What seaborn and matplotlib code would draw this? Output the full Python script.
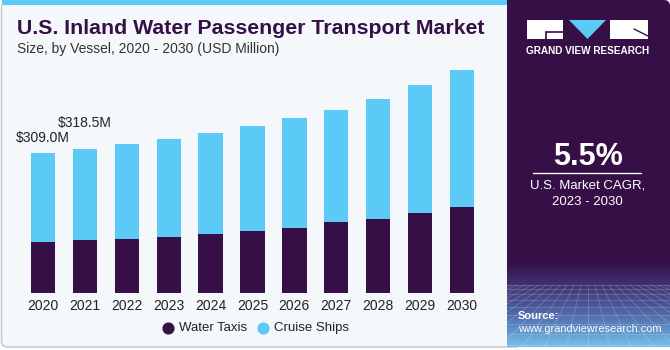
import numpy as np
import pandas as pd
import matplotlib
matplotlib.use("Agg")
import matplotlib.pyplot as plt
import seaborn as sns
from matplotlib.patches import FancyBboxPatch, Rectangle, Polygon
from matplotlib.colors import LinearSegmentedColormap

years = ["2020", "2021", "2022", "2023", "2024", "2025", "2026", "2027", "2028", "2029", "2030"]
water_taxis = [112.6, 116.3, 119.8, 124.3, 129.5, 137.5, 144.1, 155.8, 164.0, 177.2, 190.5]
cruise_ships = [196.4, 202.2, 209.7, 215.7, 222.9, 231.7, 242.1, 248.8, 264.2, 282.6, 302.4]
label_years = ["2020", "2021"]
label_texts = ["$309.0M", "$318.5M"]

DARK = "#370f47"
BLUE = "#5bcaf6"
BG = "#f4f8fb"

sns.set_theme(style="white")
plt.rcParams["font.family"] = ["Liberation Sans", "DejaVu Sans"]

W, H = 670, 350
fig = plt.figure(figsize=(W / 100, H / 100), dpi=100)
fig.patch.set_facecolor("white")

# background panel (left)
bgax = fig.add_axes([0, 0, 1, 1])
bgax.set_xlim(0, W)
bgax.set_ylim(H, 0)
bgax.axis("off")
bgax.add_patch(FancyBboxPatch((1.5, 2), 520, 345, boxstyle="round,pad=0,rounding_size=6",
                              facecolor=BG, edgecolor="#c8cdd2", linewidth=1.2))
bgax.add_patch(Rectangle((1.5, 0), 520, 4.5, facecolor=BLUE, edgecolor="none"))

# right panel
bgax.add_patch(FancyBboxPatch((507, 0), 163, 347, boxstyle="round,pad=0,rounding_size=6",
                              facecolor=DARK, edgecolor="none"))
bgax.add_patch(Rectangle((507, 0), 10, 347, facecolor=DARK, edgecolor="none"))
grad = np.linspace(0, 1, 100)[:, None]
cmap = LinearSegmentedColormap.from_list("g", [DARK, "#40306e", "#4a5596", "#5a86c0", "#78c0ea"])
bgax.imshow(grad, extent=(507, 670, 347, 262), cmap=cmap, aspect="auto", zorder=1,
            interpolation="bilinear")
for i in range(-12, 25):
    x0 = 588 + i * 7
    x1 = 588 + i * 22
    bgax.plot([x0, x1], [285, 347], color="white", alpha=0.2, lw=0.6, zorder=2)
for yy in [285, 289, 294, 300, 307, 315, 324, 334, 345]:
    bgax.plot([507, 670], [yy, yy], color="white", alpha=0.2, lw=0.6, zorder=2)
bgax.set_xlim(0, W)
bgax.set_ylim(H, 0)

# logo
bgax.add_patch(Rectangle((527, 20), 36, 19, facecolor="white", edgecolor="none", zorder=3))
bgax.add_patch(Polygon([[569, 20], [606, 20], [587.5, 39]], closed=True, facecolor=BLUE,
                       edgecolor="none", zorder=3))
bgax.add_patch(Rectangle((610, 20), 38, 19, facecolor="white", edgecolor="none", zorder=3))
bgax.plot([546, 563], [32, 32], color=DARK, lw=1.2, zorder=4)
bgax.plot([546, 546], [32, 39], color=DARK, lw=1.2, zorder=4)
bgax.plot([634, 648], [29, 36], color=DARK, lw=1.0, zorder=4)
bgax.text(587.5, 50.5, "GRAND VIEW RESEARCH", color="white", fontsize=7.2, fontweight="bold",
          ha="center", va="center", zorder=4)

bgax.text(587.5, 157, "5.5%", color="white", fontsize=22, fontweight="bold",
          ha="center", va="center", zorder=4)
bgax.plot([533, 641], [173, 173], color="white", lw=1.0, zorder=4)
bgax.text(587.5, 185.5, "U.S. Market CAGR,", color="white", fontsize=9.5,
          ha="center", va="center", zorder=4)
bgax.text(587.5, 202, "2023 - 2030", color="white", fontsize=9.5,
          ha="center", va="center", zorder=4)
bgax.text(518, 316, "Source:", color="white", fontsize=8, fontweight="bold",
          ha="left", va="center", zorder=4)
bgax.text(518, 329.5, "www.grandviewresearch.com", color="white", fontsize=7.9,
          ha="left", va="center", zorder=4)

# title
bgax.text(17, 29, "U.S. Inland Water Passenger Transport Market", color=DARK, fontsize=15.3,
          fontweight="bold", ha="left", va="center")
bgax.text(17, 49, "Size, by Vessel, 2020 - 2030 (USD Million)", color="#333333", fontsize=10,
          ha="left", va="center")

# main chart
df = pd.DataFrame({"year": years, "taxis": water_taxis, "cruise": cruise_ships})
df["total"] = df["taxis"] + df["cruise"]

ax = fig.add_axes([18 / W, 57 / H, 469 / W, 233 / H])
ax.patch.set_alpha(0)
sns.barplot(data=df, x="year", y="total", color=BLUE, saturation=1, width=0.58, ax=ax,
            edgecolor="none", zorder=2)
sns.barplot(data=df, x="year", y="taxis", color=DARK, saturation=1, width=0.58, ax=ax,
            edgecolor="none", zorder=3)
ax.set_xlim(-0.6, 10.6)
ax.set_ylim(0, 514)
ax.set_xlabel("")
ax.set_ylabel("")
ax.set_yticks([])
for s in ax.spines.values():
    s.set_visible(False)
ax.tick_params(axis="x", length=0, pad=4, labelsize=10, colors="#222222")

offsets = [5.5, 13.5]
for yr, txt, off in zip(label_years, label_texts, offsets):
    i = years.index(yr)
    ax.annotate(txt, (i, df["total"][i]), xytext=(0, off), textcoords="offset points",
                ha="center", va="bottom", fontsize=10, color="#222222")

# legend
bgax.scatter([168], [328], s=60, color=DARK, zorder=4)
bgax.text(179, 328, "Water Taxis", fontsize=9.5, color="#222222", va="center", ha="left")
bgax.scatter([263], [328], s=60, color=BLUE, zorder=4)
bgax.text(274, 328, "Cruise Ships", fontsize=9.5, color="#222222", va="center", ha="left")

fig.savefig("out.png", dpi=100, facecolor=fig.get_facecolor())
